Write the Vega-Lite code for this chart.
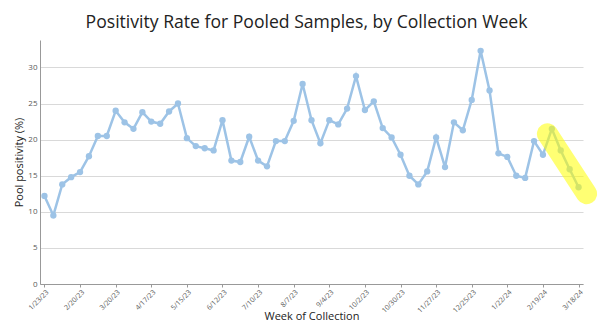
{
  "$schema": "https://vega.github.io/schema/vega-lite/v6.json",
  "width": 543,
  "height": 244,
  "autosize": {"type": "none"},
  "padding": {"left": 40, "top": 40, "right": 17, "bottom": 44},
  "background": "white",
  "config": {
    "font": "Open Sans",
    "view": {"stroke": null}
  },
  "title": {
    "text": "Positivity Rate for Pooled Samples, by Collection Week",
    "fontSize": 17.6,
    "fontWeight": "normal",
    "color": "#222222",
    "anchor": "middle",
    "offset": 8,
    "dx": -5
  },
  "datasets": {
    "weekly": [
      {"week": "2023-01-23", "pct": 12.2},
      {"week": "2023-01-30", "pct": 9.5},
      {"week": "2023-02-06", "pct": 13.8},
      {"week": "2023-02-13", "pct": 14.8},
      {"week": "2023-02-20", "pct": 15.5},
      {"week": "2023-02-27", "pct": 17.7},
      {"week": "2023-03-06", "pct": 20.5},
      {"week": "2023-03-13", "pct": 20.5},
      {"week": "2023-03-20", "pct": 24.0},
      {"week": "2023-03-27", "pct": 22.4},
      {"week": "2023-04-03", "pct": 21.5},
      {"week": "2023-04-10", "pct": 23.8},
      {"week": "2023-04-17", "pct": 22.5},
      {"week": "2023-04-24", "pct": 22.2},
      {"week": "2023-05-01", "pct": 23.9},
      {"week": "2023-05-08", "pct": 25.0},
      {"week": "2023-05-15", "pct": 20.2},
      {"week": "2023-05-22", "pct": 19.1},
      {"week": "2023-05-29", "pct": 18.8},
      {"week": "2023-06-05", "pct": 18.5},
      {"week": "2023-06-12", "pct": 22.7},
      {"week": "2023-06-19", "pct": 17.1},
      {"week": "2023-06-26", "pct": 16.9},
      {"week": "2023-07-03", "pct": 20.4},
      {"week": "2023-07-10", "pct": 17.1},
      {"week": "2023-07-17", "pct": 16.3},
      {"week": "2023-07-24", "pct": 19.8},
      {"week": "2023-07-31", "pct": 19.8},
      {"week": "2023-08-07", "pct": 22.6},
      {"week": "2023-08-14", "pct": 27.7},
      {"week": "2023-08-21", "pct": 22.7},
      {"week": "2023-08-28", "pct": 19.5},
      {"week": "2023-09-04", "pct": 22.7},
      {"week": "2023-09-11", "pct": 22.1},
      {"week": "2023-09-18", "pct": 24.3},
      {"week": "2023-09-25", "pct": 28.8},
      {"week": "2023-10-02", "pct": 24.1},
      {"week": "2023-10-09", "pct": 25.3},
      {"week": "2023-10-16", "pct": 21.6},
      {"week": "2023-10-23", "pct": 20.3},
      {"week": "2023-10-30", "pct": 17.9},
      {"week": "2023-11-06", "pct": 15.0},
      {"week": "2023-11-13", "pct": 13.8},
      {"week": "2023-11-20", "pct": 15.6},
      {"week": "2023-11-27", "pct": 20.3},
      {"week": "2023-12-04", "pct": 16.2},
      {"week": "2023-12-11", "pct": 22.4},
      {"week": "2023-12-18", "pct": 21.3},
      {"week": "2023-12-25", "pct": 25.5},
      {"week": "2024-01-01", "pct": 32.3},
      {"week": "2024-01-08", "pct": 26.8},
      {"week": "2024-01-15", "pct": 18.1},
      {"week": "2024-01-22", "pct": 17.6},
      {"week": "2024-01-29", "pct": 15.0},
      {"week": "2024-02-05", "pct": 14.7},
      {"week": "2024-02-12", "pct": 19.8},
      {"week": "2024-02-19", "pct": 17.9},
      {"week": "2024-02-26", "pct": 21.5},
      {"week": "2024-03-04", "pct": 18.5},
      {"week": "2024-03-11", "pct": 15.9},
      {"week": "2024-03-18", "pct": 13.4}
    ],
    "highlight": [
      {"week": "2024-02-22T12:00:00Z", "pct": 20.8},
      {"week": "2024-03-24T07:00:00Z", "pct": 12.5}
    ]
  },
  "encoding": {
    "x": {
      "field": "week",
      "type": "temporal",
      "scale": {
        "type": "utc",
        "domain": [
          {"year": 2023, "month": 1, "date": 19, "hours": 12, "utc": true},
          {"year": 2024, "month": 3, "date": 21, "hours": 12, "utc": true}
        ],
        "nice": false
      },
      "axis": {
        "title": "Week of Collection",
        "titleFont": "Open Sans",
        "titleFontSize": 11,
        "titleFontWeight": "normal",
        "titleColor": "#222222",
        "titlePadding": -3,
        "labelExpr": "utcFormat(datum.value, '%-m/%-d/%y')",
        "values": [
          {"year": 2023, "month": 1, "date": 23, "utc": true},
          {"year": 2023, "month": 2, "date": 20, "utc": true},
          {"year": 2023, "month": 3, "date": 20, "utc": true},
          {"year": 2023, "month": 4, "date": 17, "utc": true},
          {"year": 2023, "month": 5, "date": 15, "utc": true},
          {"year": 2023, "month": 6, "date": 12, "utc": true},
          {"year": 2023, "month": 7, "date": 10, "utc": true},
          {"year": 2023, "month": 8, "date": 7, "utc": true},
          {"year": 2023, "month": 9, "date": 4, "utc": true},
          {"year": 2023, "month": 10, "date": 2, "utc": true},
          {"year": 2023, "month": 10, "date": 30, "utc": true},
          {"year": 2023, "month": 11, "date": 27, "utc": true},
          {"year": 2023, "month": 12, "date": 25, "utc": true},
          {"year": 2024, "month": 1, "date": 22, "utc": true},
          {"year": 2024, "month": 2, "date": 19, "utc": true},
          {"year": 2024, "month": 3, "date": 18, "utc": true}
        ],
        "labelAngle": -45,
        "labelFontSize": 7,
        "labelColor": "#595959",
        "labelPadding": 1,
        "labelOverlap": false,
        "labelFlush": false,
        "grid": false,
        "ticks": true,
        "tickSize": 3,
        "tickColor": "#999999",
        "domainColor": "#999999"
      }
    },
    "y": {
      "field": "pct",
      "type": "quantitative",
      "scale": {"domain": [0, 33.8], "nice": false, "zero": true},
      "axis": {
        "title": "Pool positivity (%)",
        "titleFont": "Open Sans",
        "titleFontSize": 11,
        "titleFontWeight": "normal",
        "titleColor": "#222222",
        "titlePadding": 3,
        "values": [0, 5, 10, 15, 20, 25, 30],
        "labelFontSize": 8,
        "labelColor": "#595959",
        "labelPadding": 3,
        "ticks": false,
        "grid": true,
        "gridColor": "#d9d9d9",
        "gridWidth": 1,
        "domainColor": "#999999"
      }
    }
  },
  "layer": [
    {
      "data": {"name": "weekly"},
      "mark": {"type": "line", "color": "#9dc3e6", "strokeWidth": 2.5, "point": {"filled": true, "size": 40, "color": "#9dc3e6"}}
    },
    {
      "data": {"name": "highlight"},
      "mark": {"type": "line", "color": "#ffff00", "opacity": 0.55, "strokeWidth": 21, "strokeCap": "round", "clip": false}
    }
  ]
}
